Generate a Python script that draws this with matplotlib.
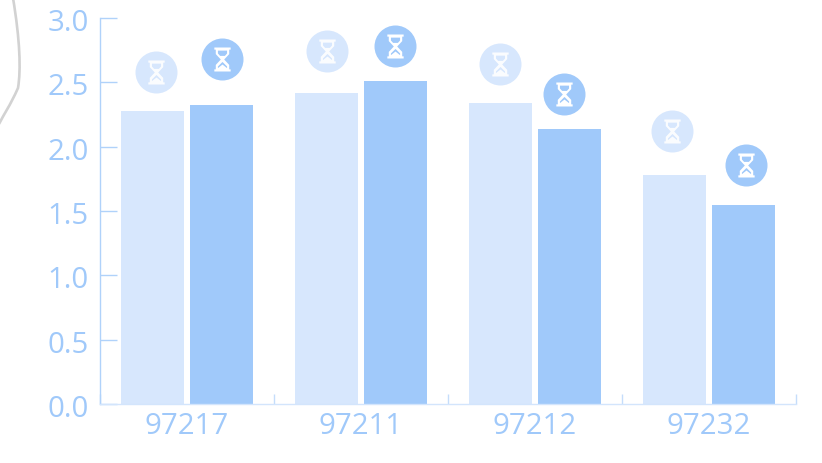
import matplotlib
matplotlib.use("Agg")
import matplotlib.pyplot as plt
from matplotlib.path import Path
from matplotlib.patches import PathPatch
from matplotlib.transforms import ScaledTranslation
import numpy as np

plt.rcParams['font.family'] = ['Open Sans', 'DejaVu Sans']

categories = ['97217', '97211', '97212', '97232']
series_a = [2.28, 2.42, 2.34, 1.78]
series_b = [2.32, 2.51, 2.14, 1.55]
badge_a = [2.58, 2.74, 2.64, 2.12]
badge_b = [2.68, 2.78, 2.41, 1.86]
badge_off_a = [-0.181, -0.198, -0.204, -0.21]
badge_off_b = [0.204, 0.198, 0.169, 0.21]
yticks = [0.0, 0.5, 1.0, 1.5, 2.0, 2.5, 3.0]

LIGHT = '#D7E7FD'
DARK = '#A0C9FA'
TEXT = '#A0C9FA'
AXIS = '#B0D2FA'

W, H = 822, 463
fig = plt.figure(figsize=(W / 100, H / 100), dpi=100, facecolor='white')
ax = fig.add_axes([100 / W, 1 - 404 / H, 696 / W, 386 / H])
x = np.arange(len(categories))
bw = 0.363
ax.bar(x - 0.2, series_a, bw, color=LIGHT, zorder=2)
ax.bar(x + 0.2, series_b, bw, color=DARK, zorder=2)
ax.set_xlim(-0.5, 3.5)
ax.set_ylim(0, 3)


def hourglass():
    verts, codes = [], []

    def poly(pts):
        verts.extend(pts + [pts[0]])
        codes.extend([Path.MOVETO] + [Path.LINETO] * (len(pts) - 1) + [Path.CLOSEPOLY])
    # caps
    poly([(-.68, 1), (.68, 1), (.68, .82), (-.68, .82)])
    poly([(-.68, -.82), (.68, -.82), (.68, -1), (-.68, -1)])
    # glass outline (clockwise)
    poly([(-.56, .82), (.56, .82), (.56, .45), (.14, 0), (.56, -.45), (.56, -.82),
          (-.56, -.82), (-.56, -.45), (-.14, 0), (-.56, .45)])
    # empty parts of the glass (counter-clockwise)
    poly([(-.38, .74), (-.38, .5), (-.2, .3), (.2, .3), (.38, .5), (.38, .74)])
    poly([(-.02, -.22), (-.38, -.58), (-.38, -.72), (0, -.42), (.38, -.72), (.38, -.58), (.02, -.22)])
    return Path(verts, codes)


glass = hourglass()
for vals, offs, col, alpha in [(badge_a, badge_off_a, LIGHT, 0.9), (badge_b, badge_off_b, DARK, 1.0)]:
    xs = x + np.array(offs)
    ax.scatter(xs, vals, s=(42 * 0.72) ** 2, color=col, linewidths=0, zorder=3, clip_on=False)
    ax.scatter(xs, vals, s=(24 * 0.72) ** 2, marker=glass, color='white', alpha=alpha,
               linewidths=0, zorder=4, clip_on=False)

for s in ['top', 'right']:
    ax.spines[s].set_visible(False)
ax.spines['left'].set_color(AXIS)
ax.spines['bottom'].set_color('#D3E5FC')
ax.spines['left'].set_linewidth(1)
ax.spines['bottom'].set_linewidth(1)

ax.set_yticks(yticks)
ax.set_yticklabels([f'{v:.1f}' for v in yticks], fontsize=21.2, color=TEXT)
ax.tick_params(axis='y', direction='in', length=12.2, width=1, color=AXIS, pad=8)
down = ScaledTranslation(0, -2 / 100, fig.dpi_scale_trans)
for t in ax.get_yticklabels():
    t.set_transform(t.get_transform() + down)
ax.set_xticks(np.arange(-0.5, 4, 1))
ax.set_xticklabels([])
ax.tick_params(axis='x', direction='in', length=7, width=1, color='#C5DDFB')
ax.set_xticks(x, minor=True)
ax.set_xticklabels(categories, minor=True, fontsize=21.2, color=TEXT)
ax.tick_params(axis='x', which='minor', length=0, pad=6)

# grey decorative curve at the upper-left edge
def px(a, b):
    return (a / W, 1 - b / H)
curve = Path([px(13, -2), px(20, 40), px(21, 70), px(18, 88), px(10, 106), px(4, 114), px(-1, 124)],
             [Path.MOVETO, Path.CURVE4, Path.CURVE4, Path.CURVE4, Path.CURVE4, Path.CURVE4, Path.CURVE4])
fig.add_artist(PathPatch(curve, fill=False, edgecolor='#D2D2D2', linewidth=1.9,
                         transform=fig.transFigure))

fig.savefig('out.png', dpi=100, facecolor='white')
